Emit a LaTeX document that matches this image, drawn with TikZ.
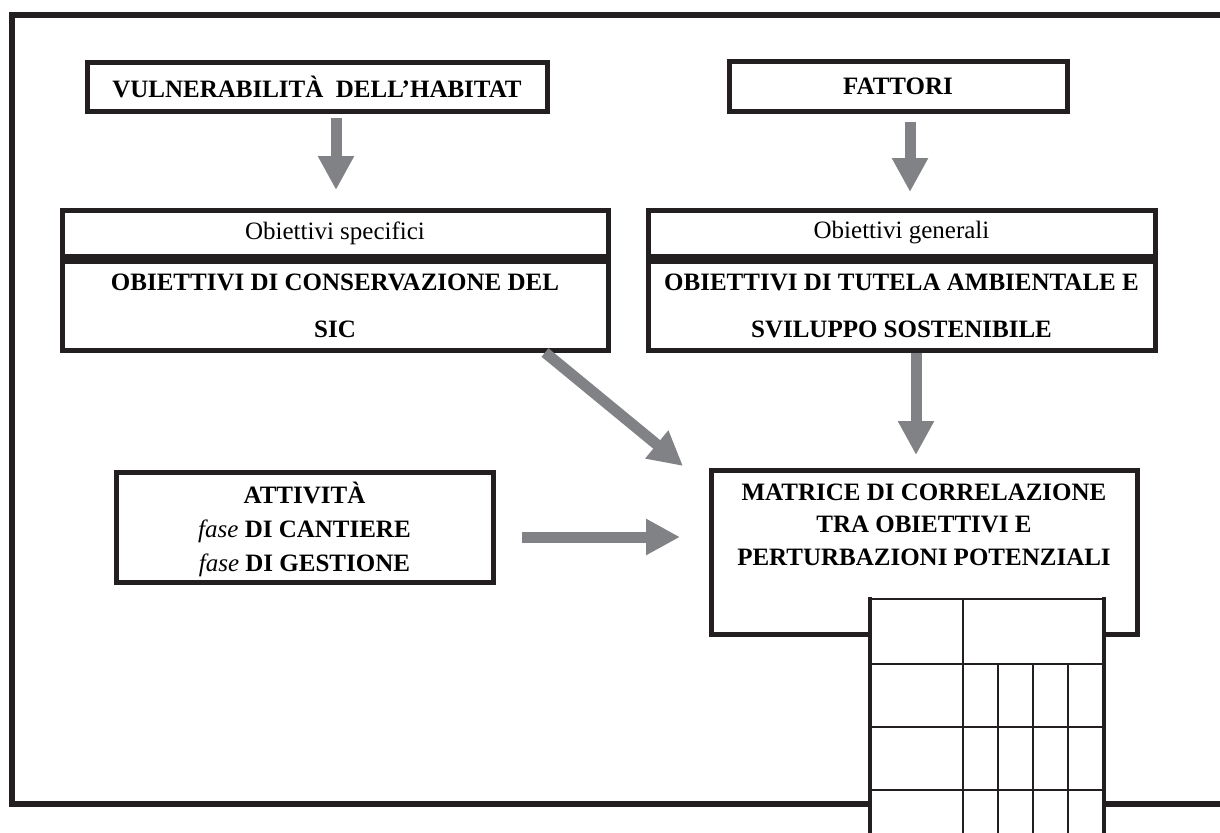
\documentclass[tikz,border=0pt]{standalone}
\usepackage{fontspec}
\setmainfont{Liberation Serif}
\usetikzlibrary{arrows.meta, positioning}
\definecolor{ink}{RGB}{35,31,32}
\definecolor{arrowgray}{RGB}{128,130,133}
\newcommand{\bxfont}{\fontsize{12.5}{16.25}\selectfont\bfseries}
\tikzset{
  box/.style={rectangle, draw=ink, line width=2.5pt, fill=white,
    align=center, inner sep=0pt, font=\bxfont},
  headbox/.style={box, font=\fontsize{12.5}{15}\selectfont},
  goalbox/.style={box, font=\fontsize{12.5}{23.5}\selectfont\bfseries},
  actbox/.style={box, font=\fontsize{12.5}{17}\selectfont\bfseries},
  boxtext/.style={align=center, inner sep=0pt, font=\bxfont},
  arrow/.style={-{Triangle[length=17pt, width=17pt]}, line width=5.5pt,
    color=arrowgray},
  frame/.style={draw=ink, line width=3pt},
  gridline/.style={draw=ink, line width=1.25pt},
  gridedge/.style={draw=ink, line width=2pt},
}

\begin{document}
\begin{tikzpicture}[x=0.5pt, y=-0.5pt]
  \clip (0,0) rectangle (1220,832);

  % outer frame
  \draw[frame] (1240,15) -| (12,804) -- (1240,804);

  % Row 1 - sources
  \node[box, minimum width=230pt, minimum height=24.5pt] (vuln) at (317,86.5)
    {VULNERABILIT\`A\ \ DELL'HABITAT};
  \node[box, minimum width=169pt, minimum height=25pt] (fatt) at (898,86)
    {FATTORI};

  % Row 2 - objectives
  \node[headbox, minimum width=273pt, minimum height=23pt] (spec) at (335,233)
    {Obiettivi specifici};
  \node[goalbox, minimum width=273pt, minimum height=44.5pt, below=0pt of spec] (cons)
    {OBIETTIVI DI CONSERVAZIONE DEL\\SIC};
  \node[headbox, minimum width=253.5pt, minimum height=23pt] (gen) at (901.5,233)
    {Obiettivi generali};
  \node[goalbox, minimum width=253.5pt, minimum height=44.5pt, below=0pt of gen] (tut)
    {OBIETTIVI DI TUTELA AMBIENTALE E\\SVILUPPO SOSTENIBILE};

  % Row 3 - activities and matrix
  \node[actbox, minimum width=188.5pt, minimum height=55pt] (att) at (304.5,527)
    {\\[-3.5pt]ATTIVIT\`A\\\textnormal{\itshape fase} DI CANTIERE\\\textnormal{\itshape fase} DI GESTIONE};
  \node[box, minimum width=213pt, minimum height=82pt] (mat) at (924,552) {};
  \node[boxtext, below=8pt of mat.north] (mattxt)
    {MATRICE DI CORRELAZIONE\\TRA OBIETTIVI E\\PERTURBAZIONI POTENZIALI};

  % Arrows
  \draw[arrow] ([xshift=0.5pt, yshift=-2.25pt]spec.north |- vuln.south)
    -- ([xshift=0.5pt, yshift=8.75pt]spec.north);
  \draw[arrow] ([xshift=6pt, yshift=-4.25pt]fatt.south)
    -- ([xshift=6pt, yshift=7.75pt]fatt.south |- gen.north);
  \draw[arrow] ([xshift=105pt]cons.south)
    -- ([xshift=-12.75pt, yshift=0.75pt]mat.north west);
  \draw[arrow] ([xshift=7.25pt]tut.south)
    -- ([xshift=7.25pt, yshift=6.25pt]tut.south |- mat.north);
  \draw[arrow] ([xshift=13.25pt, yshift=-5pt]att.east)
    -- ([xshift=-14.25pt, yshift=-5pt]att.east -| mat.west);

  % correlation grid
  \fill[white] (870,599) rectangle (1104,850);
  \draw[gridline] (870,599) -- (1104,599);
  \foreach \y in {664,727,790}
    \draw[gridline] (870,\y) -- (1104,\y);
  \draw[gridline] (963,599) -- (963,850);
  \foreach \x in {998,1033,1068}
    \draw[gridline] (\x,664) -- (\x,850);
  \draw[gridedge] (870,597) -- (870,850);
  \draw[gridedge] (1104,597) -- (1104,850);
\end{tikzpicture}
\end{document}
